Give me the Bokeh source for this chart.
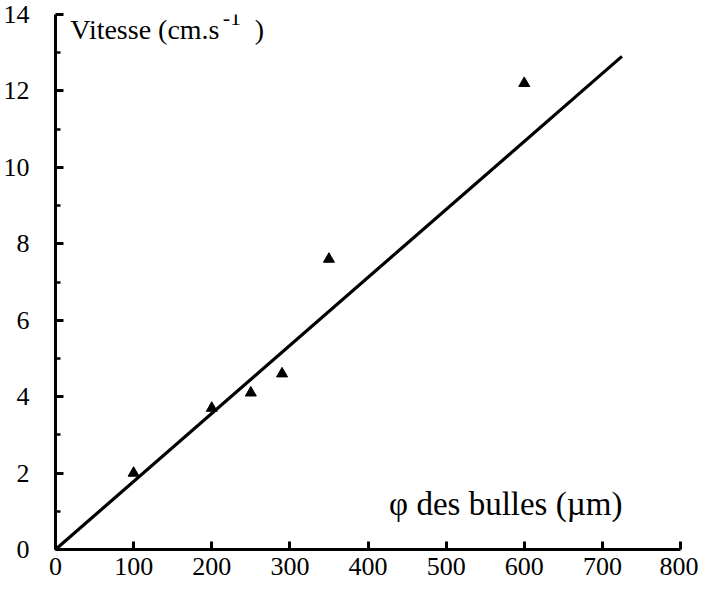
from bokeh.plotting import figure
from bokeh.models import Range1d, FixedTicker, Label
from bokeh.embed import file_html
from bokeh.resources import INLINE

# Data
diam_um = [100, 200, 250, 290, 350, 600]
vitesse = [2.0, 3.7, 4.1, 4.6, 7.6, 12.2]
fit_slope = 0.0178          # cm/s per micrometre
fit_x = [0, 725]
fit_y = [fit_slope * v for v in fit_x]

x_ticks = [0, 100, 200, 300, 400, 500, 600, 700, 800]
y_ticks = [0, 2, 4, 6, 8, 10, 12, 14]
y_minor = [1, 3, 5, 7, 9, 11, 13]

FONT = "Liberation Serif"

p = figure(width=698, height=588,
           x_range=Range1d(0, 800), y_range=Range1d(0, 14),
           output_backend="svg", toolbar_location=None,
           min_border_left=52, min_border_right=18,
           min_border_top=14, min_border_bottom=39)

p.outline_line_color = None
p.xgrid.visible = False
p.ygrid.visible = False
p.background_fill_color = "white"
p.border_fill_color = "white"

for ax in (p.xaxis[0], p.yaxis[0]):
    ax.axis_line_width = 3
    ax.axis_line_color = "black"
    ax.major_tick_line_width = 3
    ax.major_tick_line_color = "black"
    ax.major_tick_out = 0
    ax.major_tick_in = 8
    ax.minor_tick_out = 0
    ax.minor_tick_in = 5
    ax.minor_tick_line_width = 2.5
    ax.minor_tick_line_color = "black"
    ax.major_label_text_font = FONT
    ax.major_label_text_font_size = "26px"
    ax.major_label_text_color = "black"

p.xaxis[0].ticker = FixedTicker(ticks=x_ticks)
p.xaxis[0].major_label_standoff = 8
p.yaxis[0].ticker = FixedTicker(ticks=y_ticks, minor_ticks=y_minor)
p.yaxis[0].major_label_standoff = 26

p.line(fit_x, fit_y, line_width=3.2, line_color="black")
p.scatter(diam_um, vitesse, marker="triangle", size=11,
          fill_color="black", line_color="black")

# Axis titles (placed inside the plot like in the reference)
p.add_layout(Label(x=19, y=13.6, text="Vitesse (cm.s", text_font=FONT,
                   text_font_size="28px", text_baseline="middle",
                   text_color="black"))
p.add_layout(Label(x=214, y=13.9, text="-1", text_font=FONT,
                   text_font_size="22px", text_baseline="middle",
                   text_color="black"))
p.add_layout(Label(x=255, y=13.6, text=")", text_font=FONT,
                   text_font_size="28px", text_baseline="middle",
                   text_color="black"))
p.add_layout(Label(x=427, y=1.2, text="φ des bulles (µm)", text_font=FONT,
                   text_font_size="33px", text_baseline="middle",
                   text_color="black"))

open("out.html", "w").write(file_html(p, INLINE))
